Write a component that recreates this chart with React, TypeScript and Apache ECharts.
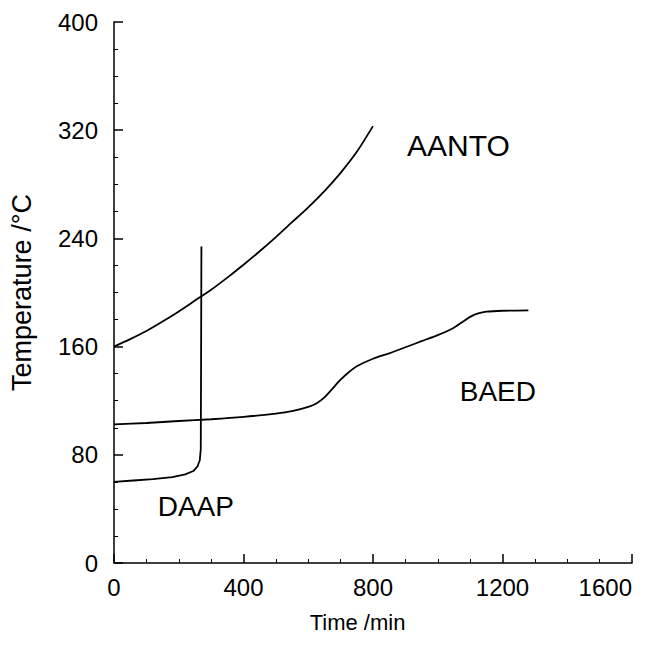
import React, { useEffect, useRef } from "react";
import * as echarts from "echarts";

const FONT = "'Liberation Sans', Arial, Helvetica, sans-serif";

// Axis ranges / ticks
const xRange = [0, 1600];
const xInterval = 400;
const yRange = [0, 400];
const yInterval = 80;

// AANTO
const aantoTime = [0, 50, 100, 150, 200, 250, 300, 350, 400, 450, 500, 550, 600, 650, 700, 750, 800];
const aantoTemp = [160, 165.5, 171.5, 178.5, 186, 194, 202, 211, 220.5, 230.5, 241, 252, 263, 275, 288.5, 304, 323];

// DAAP
const daapTime = [0, 60, 120, 180, 220, 245, 258, 265, 268, 269, 270];
const daapTemp = [60, 61, 62, 63.5, 65.5, 68, 71.5, 76, 84, 150, 234];

// BAED
const baedTime = [0, 100, 200, 300, 400, 500, 550, 600, 625, 650, 675, 700, 725, 750, 800, 850, 900, 950, 1000, 1025, 1050, 1075, 1100, 1125, 1150, 1200, 1280];
const baedTemp = [102.5, 103.5, 105, 106.3, 108, 110.5, 112.3, 115.5, 118, 122.5, 129, 135.5, 141, 145.5, 151, 155, 159.5, 164, 168.5, 171, 174, 178, 182, 184.5, 185.8, 186.5, 186.8];

// Curve labels (data coordinates of left/middle anchor)
const labelNames = ["AANTO", "DAAP", "BAED"];
const labelX = [905, 135, 1068];
const labelY = [309, 42, 126.5];
const labelSizes = [30, 28, 28];

export default function App() {
  const ref = useRef<HTMLDivElement>(null);

  useEffect(() => {
    const chart = echarts.init(ref.current!, null, { renderer: "svg" });
    const lineStyle = { color: "#000", width: 1.8 };
    const axisLineStyle = { color: "#000", width: 1.5 };

    const mk = (name: string, xs: number[], ys: number[], smooth: number | boolean) => ({
      type: "line",
      name,
      data: xs.map((x, i) => [x, ys[i]]),
      showSymbol: false,
      symbol: "none",
      smooth,
      lineStyle,
      silent: true,
    });

    const axisCommon = {
      type: "value",
      axisLine: { show: true, lineStyle: axisLineStyle },
      axisTick: { show: true, inside: true, length: 9, lineStyle: axisLineStyle },
      minorTick: { show: true, splitNumber: 4, length: 4, lineStyle: { color: "#000", width: 1 } },
      splitLine: { show: false },
      minorSplitLine: { show: false },
    };

    chart.setOption({
      animation: false,
      backgroundColor: "#fff",
      grid: { left: 113, right: 31, top: 22, bottom: 94, containLabel: false },
      xAxis: {
        ...axisCommon,
        min: xRange[0],
        max: xRange[1],
        interval: xInterval,
        name: "Time /min",
        nameLocation: "middle",
        nameGap: 48,
        nameTextStyle: { color: "#000", fontSize: 22, fontFamily: FONT, padding: [0, 31, 0, 0] },
        axisLabel: {
          color: "#000",
          fontSize: 24,
          fontFamily: FONT,
          margin: 12,
          alignMaxLabel: "right",
          formatter: (v: number) => String(v),
        },
      },
      yAxis: {
        ...axisCommon,
        min: yRange[0],
        max: yRange[1],
        interval: yInterval,
        name: "Temperature /°C",
        nameLocation: "middle",
        nameGap: 79,
        nameTextStyle: { color: "#000", fontSize: 27, fontFamily: FONT },
        axisLabel: { color: "#000", fontSize: 24, fontFamily: FONT, margin: 16, formatter: (v: number) => String(v) },
      },
      series: [
        mk("AANTO", aantoTime, aantoTemp, 0.25),
        mk("DAAP", daapTime, daapTemp, false),
        mk("BAED", baedTime, baedTemp, 0.25),
      ],
    });

    const graphics = labelNames.map((t, i) => {
      const p = chart.convertToPixel({ gridIndex: 0 }, [labelX[i], labelY[i]]) as number[];
      return {
        type: "text",
        x: p[0],
        y: p[1],
        style: {
          text: t,
          fill: "#000",
          fontSize: labelSizes[i],
          fontFamily: FONT,
          align: "left",
          verticalAlign: "middle",
        },
      };
    });
    chart.setOption({ graphic: graphics });

    return () => chart.dispose();
  }, []);

  return (
    <div
      ref={ref}
      style={{ position: "fixed", left: 0, top: 0, width: 663, height: 657, background: "#fff" }}
    />
  );
}
